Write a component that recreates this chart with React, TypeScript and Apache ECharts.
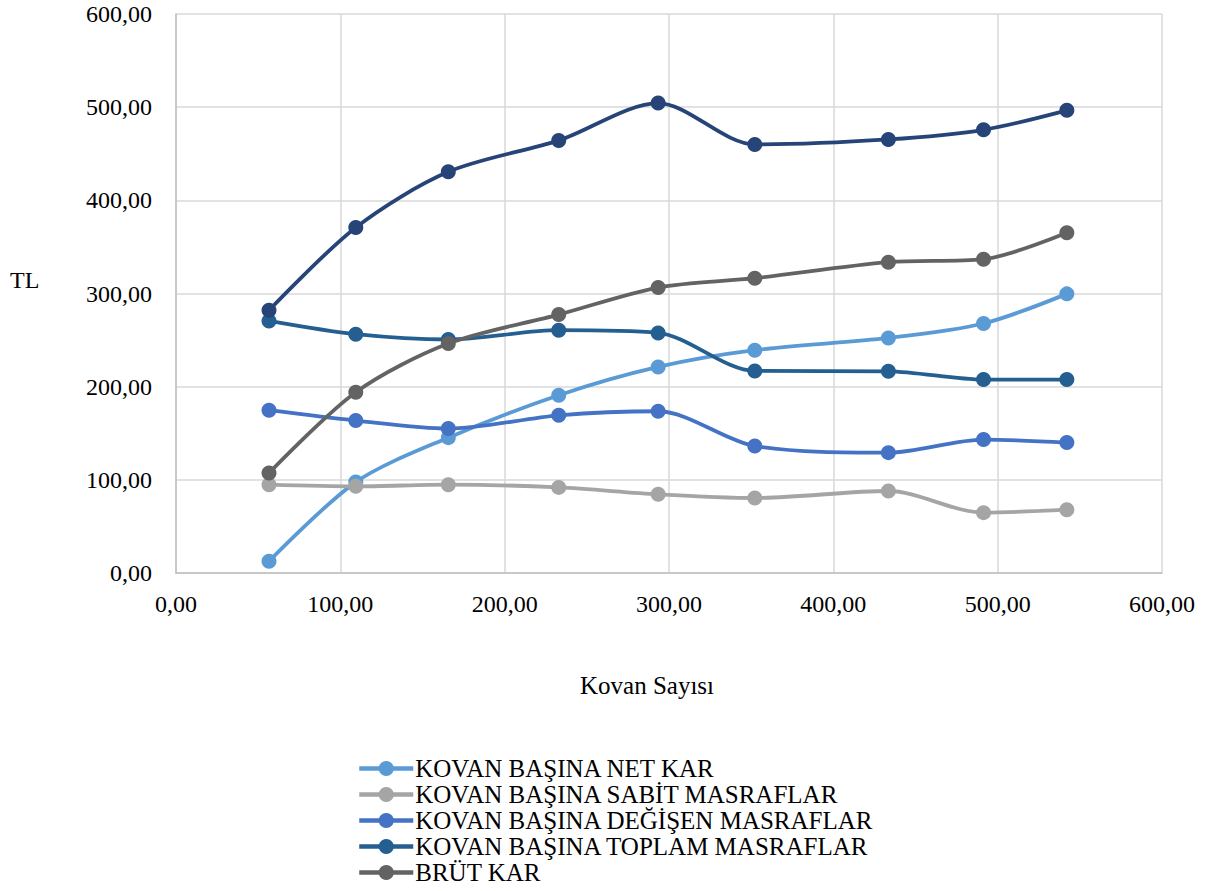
import React, { useEffect, useRef } from "react";
import * as echarts from "echarts";

const kovanSayisi = [56.6, 109.4, 165.7, 232.9, 293.4, 352.2, 433.5, 491.4, 542.1];
const netKar = [12.5, 97.6, 145.3, 190.8, 221.2, 239.1, 252.3, 267.8, 299.6];
const sabitMasraflar = [94.8, 93.0, 94.8, 91.9, 84.4, 80.5, 88.0, 64.8, 68.0];
const degisenMasraflar = [174.7, 163.6, 155.0, 169.3, 173.6, 136.3, 129.2, 143.2, 140.0];
const toplamMasraflar = [270.6, 256.3, 250.6, 260.6, 257.7, 216.9, 216.5, 207.6, 207.6];
const brutKar = [107.3, 194.0, 246.3, 277.4, 306.4, 316.4, 333.6, 336.8, 365.1];
const gelir = [282.0, 370.9, 430.6, 464.3, 504.4, 460.0, 465.4, 475.7, 496.6];

const seriesNames = [
  "KOVAN BAŞINA NET KAR",
  "KOVAN BAŞINA SABİT MASRAFLAR",
  "KOVAN BAŞINA DEĞİŞEN MASRAFLAR",
  "KOVAN BAŞINA TOPLAM MASRAFLAR",
  "BRÜT KAR",
];
const hiddenName = "KOVAN BAŞINA GELİR";
const colors = ["#5B9BD5", "#A5A5A5", "#4472C4", "#255E91", "#636363", "#264478"];

const xTitle = "Kovan Sayısı";
const yTitle = "TL";

const fmt = (v: number) => v.toFixed(2).replace(".", ",");
const FONT = "Liberation Serif";

export default function App() {
  const ref = useRef<HTMLDivElement>(null);
  useEffect(() => {
    if (!ref.current) return;
    const chart = echarts.init(ref.current, undefined, { renderer: "svg" });
    const allData = [netKar, sabitMasraflar, degisenMasraflar, toplamMasraflar, brutKar, gelir];
    const allNames = [...seriesNames, hiddenName];
    chart.setOption({
      animation: false,
      backgroundColor: "#ffffff",
      textStyle: { fontFamily: FONT },
      grid: { left: 176, right: 53, top: 14, bottom: 318, containLabel: false },
      xAxis: {
        type: "value",
        min: 0,
        max: 600,
        interval: 100,
        axisLine: { show: true, lineStyle: { color: "#bfbfbf", width: 1.5 } },
        axisTick: { show: false },
        splitLine: { show: true, lineStyle: { color: "#d9d9d9", width: 1.5 } },
        axisLabel: { formatter: fmt, fontSize: 24, color: "#000", fontFamily: FONT, margin: 19 },
      },
      yAxis: {
        type: "value",
        min: 0,
        max: 600,
        interval: 100,
        axisLine: { show: true, lineStyle: { color: "#bfbfbf", width: 1.5 } },
        axisTick: { show: false },
        splitLine: { show: true, lineStyle: { color: "#d9d9d9", width: 1.5 } },
        axisLabel: { formatter: fmt, fontSize: 24, color: "#000", fontFamily: FONT, margin: 24 },
      },
      legend: {
        orient: "vertical",
        left: 352,
        top: 751,
        height: 200,
        itemWidth: 54,
        itemHeight: 19,
        itemGap: 1,
        data: seriesNames,
        lineStyle: { width: 4.5 },
        textStyle: {
          fontSize: 25,
          color: "#000",
          fontFamily: FONT,
          padding: [0, 0, 0, -3],
        },
      },
      graphic: [
        {
          type: "text",
          left: 580,
          top: 673,
          style: { text: xTitle, fontSize: 25, fill: "#000", fontFamily: FONT },
        },
        {
          type: "text",
          left: 10,
          top: 268,
          style: { text: yTitle, fontSize: 24, fill: "#000", fontFamily: FONT },
        },
      ],
      series: allData.map((d, i) => ({
        name: allNames[i],
        type: "line",
        smooth: 0.3,
        symbol: "circle",
        symbolSize: 15,
        data: kovanSayisi.map((x, j) => [x, d[j]]),
        itemStyle: { color: colors[i] },
        lineStyle: { color: colors[i], width: 3.8 },
        z: 2 + i,
      })),
    });
    return () => chart.dispose();
  }, []);
  return (
    <div
      ref={ref}
      style={{ position: "fixed", left: 0, top: 0, width: 1215, height: 891, background: "#fff" }}
    />
  );
}
